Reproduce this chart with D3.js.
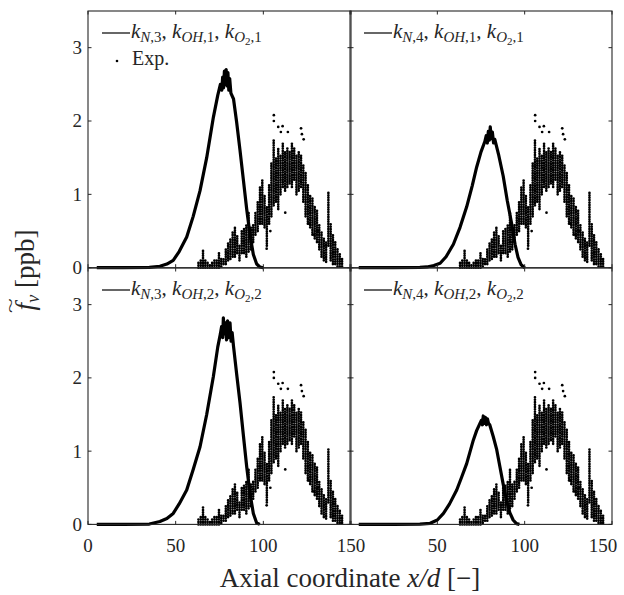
<!DOCTYPE html>
<html lang="en">
<head>
    <title>Axial profiles</title>
    <script src="https://d3js.org/d3.v7.min.js"></script>
    <style>
        body { margin: 0; padding: 0; background: #fff; }
        svg { display: block; }
        text { font-family: "Liberation Serif", "Times New Roman", serif; fill: #262626; }
    </style>
</head>
<body>
<div id="chart"></div>
<script>
    // axis ticks
    const xTicks = [0, 50, 100, 150];
    const yTicks = [0, 1, 2, 3];

    // simulated profiles (x/d, ppb), one per panel
    const simTL = [[5,0],[20,0],[35,0.005],[41,0.02],[45,0.05],[48.6,0.1],[52,0.22],[56.3,0.42],[60,0.7],[63.9,1.05],
        [67.7,1.5],[71.5,2.05],[74,2.35],[75.5,2.5],[76.3,2.42],[76.8,2.6],[77.3,2.45],[77.8,2.68],[78.3,2.5],[78.8,2.7],
        [79.3,2.48],[79.8,2.66],[80.3,2.42],[80.8,2.58],[81.5,2.38],[83,2.3],[84.8,1.98],[86.7,1.6],[88.6,1.2],[90.5,0.8],
        [92.4,0.45],[94.3,0.18],[96.2,0.05],[98,0.01],[100,0]];
    const simTR = [[5,0],[25,0],[40,0.005],[44,0.01],[48,0.03],[51.6,0.06],[55,0.15],[59.2,0.32],[63,0.55],[66.8,0.83],
        [70,1.12],[72.5,1.37],[75,1.58],[77.2,1.72],[78,1.8],[78.6,1.7],[79.2,1.86],[79.8,1.74],[80.3,1.92],[80.9,1.76],
        [81.5,1.85],[82.2,1.7],[82.9,1.75],[85,1.55],[87.7,1.25],[90,0.92],[92.4,0.62],[94.5,0.32],[96.2,0.14],[98,0.04],[100,0]];
    const simBL = [[5,0],[20,0],[35,0.005],[41,0.04],[45,0.08],[48.6,0.15],[52,0.28],[56.3,0.47],[60,0.75],[63.9,1.06],
        [67.7,1.5],[71.5,2.02],[74,2.42],[75.5,2.6],[76.2,2.7],[76.8,2.55],[77.2,2.82],[77.8,2.6],[78.4,2.75],[79,2.52],
        [79.6,2.78],[80.2,2.55],[81,2.75],[81.6,2.5],[82.2,2.62],[83,2.43],[84.8,2.05],[86.7,1.66],[88.6,1.22],[90.5,0.79],
        [92.4,0.42],[94.3,0.15],[96.2,0.02],[98,0]];
    const simBR = [[5,0],[25,0],[40,0.003],[45.9,0.015],[50,0.06],[53.5,0.15],[57,0.28],[61.1,0.47],[64,0.65],[66.8,0.83],
        [70.6,1.15],[72.5,1.28],[74.4,1.38],[75.2,1.42],[75.8,1.36],[76.3,1.48],[76.9,1.38],[77.5,1.46],[78.1,1.36],[78.7,1.44],
        [79.3,1.38],[80,1.36],[82,1.2],[84,1.02],[85.8,0.79],[87.7,0.55],[89.6,0.33],[91.5,0.16],[93.4,0.06],[95.3,0.01],[97,0]];

    // experimental data: columns of stacked points [x, low, high]
    const expColumns = [[63,0,0.08],[64.3,0,0.1],[65.6,0,0.25],[66.9,0,0.1],[68.2,0,0.08],[69.5,0,0.05],[70.8,0,0.08],
        [72.1,0,0.1],[73.4,0,0.12],[74.7,0,0.2],[76,0.02,0.15],[77.3,0.05,0.12],[78.6,0.05,0.25],[79.9,0.1,0.35],
        [81.2,0.12,0.4],[82.5,0.15,0.5],[83.8,0.15,0.55],[85.1,0.2,0.45],[86.4,0.1,0.3],[87.7,0.2,0.5],[89,0.2,0.55],
        [90.3,0.15,0.6],[91.6,0.22,0.75],[92.9,0.25,0.55],[94.2,0.35,0.6],[95.5,0.45,0.75],[96.8,0.5,0.9],[98.1,0.6,1.1],
        [99.4,0.6,1.2],[100.7,0.55,1.0],[102,0.3,0.85],[103.3,0.6,1.15],[104.6,0.7,1.45],[105.9,0.85,1.75],[107.2,0.9,1.5],
        [108.5,0.8,1.65],[109.8,1.0,1.55],[111.1,1.1,1.7],[112.4,1.05,1.6],[113.7,1.1,1.65],[115,1.15,1.6],[116.3,1.1,1.7],
        [117.6,1.2,1.65],[118.9,1.0,1.55],[120.2,1.05,1.6],[121.5,1.1,1.55],[122.8,0.9,1.4],[124.1,0.7,1.3],[125.4,0.6,1.15],
        [126.7,0.55,1.0],[128,0.45,0.95],[129.3,0.4,0.85],[130.6,0.35,0.8],[131.9,0.25,0.6],[133.2,0.15,0.5],[134.5,0.1,0.4],
        [135.8,0.08,0.35],[137.1,0.3,1.05],[138.4,0.1,0.6],[139.7,0.05,0.45],[141,0.05,0.35],[142.3,0.02,0.25],
        [143.6,0.02,0.2],[144.9,0.02,0.12]];
    const expOutliers = [[106,2.08],[106,2.0],[108.5,1.92],[110,1.85],[111,1.93],[114,1.85],[121.5,1.9],[122,1.82],
        [123,1.75],[101.9,0.26],[112.5,0.75],[126,0.6],[131,0.5],[129,0.45],[104,0.5]];

    // legend subscripts per panel: [N, OH, O2]
    const legendIdx = [[3,1,1],[4,1,1],[3,2,2],[4,2,2]];

    const W = 624, H = 595;
    const ink = "#262626";
    const panels = [
        {x0: 88, x1: 351, y0: 11, y1: 267.7, sim: simTL, leg: legendIdx[0], exp: true, xl: false, yl: true},
        {x0: 350, x1: 612, y0: 11, y1: 267.7, sim: simTR, leg: legendIdx[1], exp: false, xl: false, yl: false},
        {x0: 88, x1: 351, y0: 268, y1: 524.4, sim: simBL, leg: legendIdx[2], exp: false, xl: true, yl: true},
        {x0: 350, x1: 612, y0: 268, y1: 524.4, sim: simBR, leg: legendIdx[3], exp: false, xl: true, yl: false}
    ];

    const svg = d3.select("#chart").append("svg")
        .attr("width", W).attr("height", H);

    function legendText(g, idx, x, y) {
        const t = g.append("text").attr("x", x).attr("y", y).style("font-size", "21px");
        const parts = [["N", "," + idx[0], false], ["OH", "," + idx[1], false], ["O", "," + idx[2], true]];
        parts.forEach((p, i) => {
            t.append("tspan").style("font-style", "italic").text("k");
            t.append("tspan").attr("dy", 4).style("font-size", "15px").style("font-style", "italic").text(p[0]);
            if (p[2]) {
                t.append("tspan").attr("dy", 3).style("font-size", "11px").text("2");
                t.append("tspan").attr("dy", -3).style("font-size", "15px").text(p[1]);
            } else {
                t.append("tspan").style("font-size", "15px").text(p[1]);
            }
            t.append("tspan").attr("dy", -4).text(i < 2 ? ", " : "");
        });
    }

    panels.forEach((p, i) => {
        const x = d3.scaleLinear().domain([0, 150]).range([p.x0, p.x1]);
        const y = d3.scaleLinear().domain([0, 3.5]).range([p.y1, p.y0]);
        const g = svg.append("g");

        // experimental points, column by column
        g.selectAll(".col").data(expColumns).enter().append("line")
            .attr("x1", d => x(d[0])).attr("x2", d => x(d[0]))
            .attr("y1", d => y(d[1])).attr("y2", d => y(d[2]) - 0.01)
            .attr("stroke", "#000").attr("stroke-width", 2.7)
            .attr("stroke-linecap", "round").attr("stroke-dasharray", "0 2.4");
        g.selectAll(".out").data(expOutliers).enter().append("circle")
            .attr("cx", d => x(d[0])).attr("cy", d => y(d[1])).attr("r", 1.35).attr("fill", "#000");

        // simulated profile
        g.append("path").datum(p.sim)
            .attr("d", d3.line().x(d => x(d[0])).y(d => y(d[1])))
            .attr("fill", "none").attr("stroke", "#000").attr("stroke-width", 3.2)
            .attr("stroke-linejoin", "round");

        // box with inward ticks on all sides
        g.append("rect").attr("x", p.x0).attr("y", p.y0)
            .attr("width", p.x1 - p.x0).attr("height", p.y1 - p.y0)
            .attr("fill", "none").attr("stroke", ink).attr("stroke-width", 1.1);
        const tk = 3.5;
        xTicks.forEach(v => {
            g.append("line").attr("x1", x(v)).attr("x2", x(v)).attr("y1", p.y1).attr("y2", p.y1 - tk).attr("stroke", ink);
            g.append("line").attr("x1", x(v)).attr("x2", x(v)).attr("y1", p.y0).attr("y2", p.y0 + tk).attr("stroke", ink);
        });
        yTicks.forEach(v => {
            g.append("line").attr("x1", p.x0).attr("x2", p.x0 + tk).attr("y1", y(v)).attr("y2", y(v)).attr("stroke", ink);
            g.append("line").attr("x1", p.x1).attr("x2", p.x1 - tk).attr("y1", y(v)).attr("y2", y(v)).attr("stroke", ink);
        });

        if (p.yl) {
            g.selectAll(".yl").data(yTicks).enter().append("text")
                .attr("x", p.x0 - 6).attr("y", d => y(d)).attr("dy", "0.34em")
                .attr("text-anchor", "end").style("font-size", "19px").text(d => d);
        }
        if (p.xl) {
            g.selectAll(".xl").data(i === 2 ? xTicks : xTicks.slice(1)).enter().append("text")
                .attr("x", d => Math.min(x(d), 603)).attr("y", 552)
                .attr("text-anchor", "middle").style("font-size", "19px").text(d => d);
        }

        // legend
        const ly = p.y0 + 22;
        const lx = p.x0 + 14;
        g.append("line").attr("x1", lx).attr("x2", lx + 28).attr("y1", ly).attr("y2", ly)
            .attr("stroke", "#000").attr("stroke-width", 1.2);
        legendText(g, p.leg, lx + 29, ly + 5);
        if (p.exp) {
            g.append("circle").attr("cx", lx + 15).attr("cy", ly + 28).attr("r", 1.3).attr("fill", "#000");
            g.append("text").attr("x", lx + 30).attr("y", ly + 32).style("font-size", "20px").text("Exp.");
        }
    });

    // axis titles
    const xt = svg.append("text").attr("x", 350).attr("y", 587).attr("text-anchor", "middle")
        .style("font-size", "27px");
    xt.append("tspan").text("Axial coordinate ");
    xt.append("tspan").style("font-style", "italic").text("x/d");
    xt.append("tspan").text(" [\u2212]");

    const yg = svg.append("g").attr("transform", "translate(34,270) rotate(-90)");
    const yt = yg.append("text").attr("text-anchor", "middle").style("font-size", "27px");
    yt.append("tspan").style("font-style", "italic").text("f");
    yt.append("tspan").attr("dy", 5).style("font-size", "18px").style("font-style", "italic").text("v");
    yt.append("tspan").attr("dy", -5).text(" [ppb]");
    const fx = yt.node().getExtentOfChar(0);
    yg.append("text")
        .attr("transform", `translate(${fx.x + fx.width / 2 + 1},-18.5) scale(1.7,1)`)
        .attr("text-anchor", "middle").style("font-size", "16px").text("~");
</script>
</body>
</html>
